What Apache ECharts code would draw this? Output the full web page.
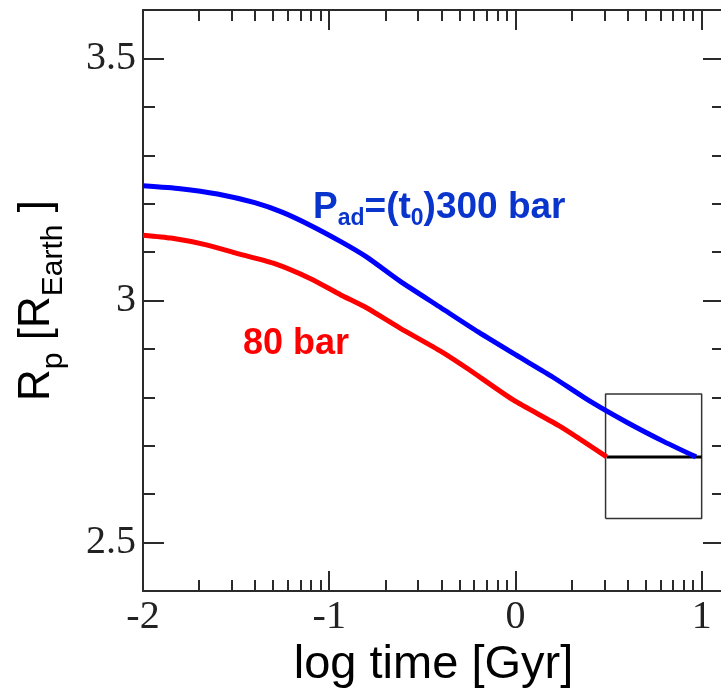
<!DOCTYPE html>
<html>
<head>
<meta charset="utf-8">
<script src="https://cdn.jsdelivr.net/npm/echarts@6/dist/echarts.min.js"></script>
<style>html,body{margin:0;padding:0;background:#fff;}#c{width:721px;height:688px;}</style>
</head>
<body>
<div id="c"></div>
<script>
// ---- data ----
const X_MAJOR = [-2, -1, 0, 1];
const X_MINOR_FACTORS = [2, 3, 4, 5, 6, 7, 8, 9];
const X_DECADES = [-2, -1, 0];
const Y_MAJOR = [2.5, 3, 3.5];
const Y_MINOR = [2.6, 2.7, 2.8, 2.9, 3.1, 3.2, 3.3, 3.4];

const BLUE_X = [-2.0, -1.8, -1.6, -1.4, -1.25, -1.1, -0.94, -0.8, -0.62, -0.4, -0.2, 0.0, 0.2, 0.4, 0.6, 0.8, 0.97];
const BLUE_Y = [3.237, 3.231, 3.220, 3.202, 3.182, 3.155, 3.122, 3.090, 3.040, 2.985, 2.935, 2.888, 2.842, 2.792, 2.748, 2.708, 2.677];

const RED_X = [-2.0, -1.85, -1.66, -1.5, -1.3, -1.1, -0.94, -0.8, -0.62, -0.4, -0.26, -0.01, 0.24, 0.49];
const RED_Y = [3.135, 3.129, 3.115, 3.098, 3.077, 3.045, 3.012, 2.985, 2.943, 2.895, 2.860, 2.794, 2.740, 2.677];

const BLACK_X = [0.49, 1.0];
const BLACK_Y = [2.677, 2.677];

const BOX_X = [0.484, 1.0, 1.0, 0.484, 0.484];
const BOX_Y = [2.55, 2.55, 2.807, 2.807, 2.55];

const X_RANGE = [-2, 1.12];
const Y_RANGE = [2.4, 3.6];

const LABEL_BLUE = '{m|P}{s|ad}{m|=(t}{s|0}{m|)300 bar}';
const LABEL_RED = '80 bar';
const X_TITLE = 'log time [Gyr]';
const Y_TITLE = '{m|R}{s|p}{m| [R}{s|Earth}{m| ]}';

// ---- build ----
const X_MINOR = [];
X_DECADES.forEach(d => X_MINOR_FACTORS.forEach(k => X_MINOR.push(d + Math.log10(k))));
const zip = (a, b) => a.map((v, i) => [v, b[i]]);

const AX = '#2a2a2a';
const tickFont = {fontFamily: 'Liberation Serif', fontSize: 40, color: '#222'};

function xAx(pos, customTicks, len, showLine, showLabel) {
  return {
    type: 'value', position: pos, min: X_RANGE[0], max: X_RANGE[1],
    axisLine: {show: showLine, onZero: false, lineStyle: {color: AX, width: 2}},
    axisTick: {show: true, inside: true, length: len, customValues: customTicks, lineStyle: {color: AX, width: 2}},
    axisLabel: Object.assign({show: showLabel, margin: 6, customValues: X_MAJOR}, tickFont),
    splitLine: {show: false}
  };
}
function yAx(pos, customTicks, len, showLine, showLabel) {
  return {
    type: 'value', position: pos, min: Y_RANGE[0], max: Y_RANGE[1],
    axisLine: {show: showLine, onZero: false, lineStyle: {color: AX, width: 2}},
    axisTick: {show: true, inside: true, length: len, customValues: customTicks, lineStyle: {color: AX, width: 2}},
    axisLabel: Object.assign({show: showLabel, margin: 7, customValues: Y_MAJOR}, tickFont),
    splitLine: {show: false}
  };
}

const xAxes = [
  xAx('bottom', X_MAJOR, 20, true, true),
  xAx('bottom', X_MINOR, 11, false, false),
  xAx('top', X_MAJOR, 20, true, false),
  xAx('top', X_MINOR, 11, false, false)
];
Object.assign(xAxes[0], {
  name: X_TITLE, nameLocation: 'middle', nameGap: 47,
  nameTextStyle: {fontFamily: 'Liberation Sans', fontSize: 47, color: '#000'}
});

const yAxes = [
  yAx('left', Y_MAJOR, 21, true, true),
  yAx('left', Y_MINOR, 12, false, false),
  yAx('right', Y_MAJOR, 21, true, false),
  yAx('right', Y_MINOR, 12, false, false)
];
Object.assign(yAxes[0], {
  name: Y_TITLE, nameLocation: 'middle', nameRotate: 90, nameGap: 74,
  nameTextStyle: {
    fontFamily: 'Liberation Sans', fontSize: 44, color: '#000',
    rich: {
      m: {fontFamily: 'Liberation Sans', fontSize: 44, lineHeight: 44, color: '#000', padding: [0, 0, 10, 0], verticalAlign: 'bottom'},
      s: {fontFamily: 'Liberation Sans', fontSize: 30, lineHeight: 30, color: '#000', verticalAlign: 'bottom'}
    }
  }
});

const chart = echarts.init(document.getElementById('c'), null, {renderer: 'canvas'});
chart.setOption({
  animation: false,
  backgroundColor: '#fff',
  grid: {left: 143, top: 10, right: -3, bottom: 97, containLabel: false, outerBoundsMode: 'none'},
  xAxis: xAxes,
  yAxis: yAxes,
  series: [
    {type: 'line', data: zip(BOX_X, BOX_Y), showSymbol: false, symbol: 'none',
     lineStyle: {color: '#333', width: 1.5}, z: 2},
    {type: 'line', data: zip(BLACK_X, BLACK_Y), showSymbol: false, symbol: 'none',
     lineStyle: {color: '#000', width: 3}, z: 3},
    {type: 'line', data: zip(RED_X, RED_Y), showSymbol: false, symbol: 'none', smooth: 0.2,
     lineStyle: {color: '#ff0000', width: 5}, z: 4},
    {type: 'line', data: zip(BLUE_X, BLUE_Y), showSymbol: false, symbol: 'none', smooth: 0.2,
     lineStyle: {color: '#0000ff', width: 5}, z: 5}
  ],
  graphic: [
    {type: 'text', x: 313, y: 230, z: 10,
     style: {text: LABEL_BLUE, fill: '#0a35cc', font: 'bold 37px "Liberation Sans"',
       align: 'left', verticalAlign: 'bottom',
       rich: {
         m: {fontFamily: 'Liberation Sans', fontWeight: 'bold', fontSize: 37, lineHeight: 37, fill: '#0a35cc', padding: [0, 0, 4, 0], verticalAlign: 'bottom'},
         s: {fontFamily: 'Liberation Sans', fontWeight: 'bold', fontSize: 23, lineHeight: 23, fill: '#0a35cc', verticalAlign: 'bottom'}
       }}},
    {type: 'text', x: 243, y: 362, z: 10,
     style: {text: LABEL_RED, fill: '#ff0000', font: 'bold 36px "Liberation Sans"',
       align: 'left', verticalAlign: 'bottom'}}
  ]
});
</script>
</body>
</html>
